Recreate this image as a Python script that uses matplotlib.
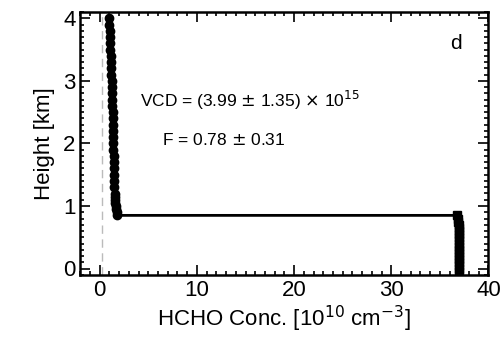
import numpy as np
import matplotlib.pyplot as plt
from matplotlib.ticker import MultipleLocator

# profile points (height in km, HCHO in 1e10 cm^-3)
height_low = [-0.05, 0.0, 0.05, 0.1, 0.15, 0.2, 0.25, 0.3, 0.35, 0.4, 0.45, 0.5,
              0.55, 0.6, 0.65, 0.7, 0.75, 0.8, 0.85]
conc_low = [37.0, 37.0, 37.0, 37.0, 37.0, 37.0, 37.0, 37.0, 37.0, 37.0, 37.0, 37.0,
            37.0, 37.0, 37.0, 37.0, 36.9, 36.9, 36.8]
height_up = [0.85, 0.9, 0.95, 1.0, 1.05, 1.1, 1.15, 1.2, 1.3, 1.4, 1.5, 1.6, 1.7,
             1.8, 1.9, 2.0, 2.1, 2.2, 2.3, 2.4, 2.5, 2.6, 2.7, 2.8, 2.9,
             3.0, 3.1, 3.2, 3.3, 3.4, 3.5, 3.6, 3.7, 3.8, 3.9, 4.0]
conc_up = [1.8, 1.75, 1.7, 1.65, 1.6, 1.6, 1.55, 1.55, 1.5, 1.5, 1.5, 1.45, 1.45,
           1.45, 1.4, 1.4, 1.4, 1.4, 1.35, 1.35, 1.35, 1.3, 1.3, 1.3, 1.3,
           1.25, 1.2, 1.2, 1.15, 1.15, 1.1, 1.1, 1.05, 1.05, 1.0, 1.0]
ref_x = 0.2

plt.rcParams['font.family'] = ['Liberation Sans', 'DejaVu Sans']

fig = plt.figure(figsize=(5.02, 3.5), dpi=100)
ax = fig.add_axes([0.16, 0.215, 0.813, 0.75])

h = height_low + height_up
c = conc_low + conc_up
ax.plot(c, h, color='black', lw=2)
ax.plot(conc_low, height_low, 's', color='black', ms=6)
ax.plot(conc_up, height_up, 'o', color='black', ms=6)
ax.axvline(ref_x, color='#bbbbbb', lw=1, ls=(0, (6, 4)))

ax.set_xlim(-2, 40)
ax.set_ylim(-0.1, 4.1)
ax.xaxis.set_major_locator(MultipleLocator(10))
ax.xaxis.set_minor_locator(MultipleLocator(1))
ax.yaxis.set_major_locator(MultipleLocator(1))
ax.yaxis.set_minor_locator(MultipleLocator(0.1))
ax.tick_params(which='both', direction='in', top=True, right=True,
               labelsize=16, width=1.2)
ax.tick_params(which='major', length=7)
ax.tick_params(which='minor', length=3)
for s in ax.spines.values():
    s.set_linewidth(1.8)

ax.set_xlabel(r'HCHO Conc. [10$^{10}$ cm$^{-3}$]', fontsize=16, labelpad=2)
ax.set_ylabel('Height [km]', fontsize=16, labelpad=6)

ax.text(0.147, 0.64, r'VCD = (3.99 $\pm$ 1.35) $\times$ 10$^{15}$',
        transform=ax.transAxes, fontsize=12.5)
ax.text(0.20, 0.495, r'F = 0.78 $\pm$ 0.31',
        transform=ax.transAxes, fontsize=12.5)
ax.text(0.905, 0.86, 'd', transform=ax.transAxes, fontsize=15)

fig.savefig('out.png', dpi=100)
